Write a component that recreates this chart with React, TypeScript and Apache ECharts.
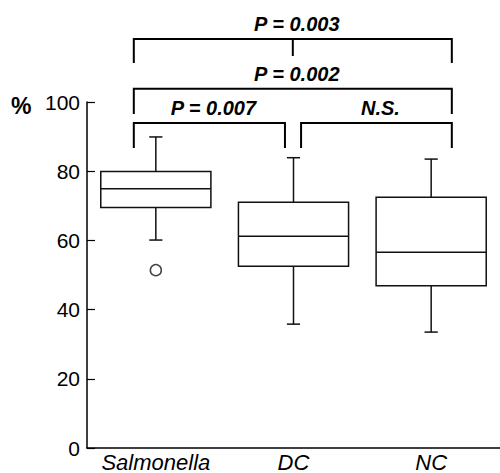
import React, { useEffect, useRef } from 'react';
import * as echarts from 'echarts';

const categories = ['Salmonella', 'DC', 'NC'];
const whiskerLow = [60.1, 35.8, 33.5];
const quartile1 = [69.5, 52.5, 46.9];
const medians = [74.9, 61.2, 56.6];
const quartile3 = [79.9, 71.0, 72.5];
const whiskerHigh = [89.9, 83.9, 83.5];
const outlierCategory = [0];
const outlierValue = [51.4];

const yMin = 0;
const yMax = 100;
const yStep = 20;

const bracketFrom = [0, 0, 0, 1];
const bracketTo = [2, 2, 1, 2];
const bracketLevel = [118.2, 103.8, 93.9, 93.9];
const bracketLegEnd = [111.3, 96.5, 86.7, 86.7];
const bracketMidTickEnd = [113.3, -1, -1, -1];
const bracketLabels = ['P = 0.003', 'P = 0.002', 'P = 0.007', 'N.S.'];

const FONT = '"Liberation Sans", Arial, Helvetica, sans-serif';

export default function App() {
  const ref = useRef<HTMLDivElement>(null);
  useEffect(() => {
    document.body.style.margin = '0';
    if (!ref.current) return;
    const chart = echarts.init(ref.current, null, { renderer: 'svg' });

    const boxData = categories.map((_, i) => [
      i,
      whiskerLow[i],
      quartile1[i],
      medians[i],
      quartile3[i],
      whiskerHigh[i],
    ]);
    const outlierData = outlierCategory.map((c, i) => [c, outlierValue[i]]);
    const bracketData = bracketFrom.map((f, i) => [
      f,
      bracketLevel[i],
      bracketTo[i],
      bracketLegEnd[i],
      bracketMidTickEnd[i],
    ]);

    const lineStyle = { stroke: '#111', lineWidth: 1.5, fill: 'none' };

    const option: any = {
      animation: false,
      grid: { left: 87, right: 0, top: 102, bottom: 25 },
      xAxis: {
        type: 'category',
        data: categories,
        axisLine: { lineStyle: { color: '#000', width: 1.5 } },
        axisTick: { show: false },
        axisLabel: {
          color: '#000',
          fontSize: 22,
          fontStyle: 'italic',
          fontFamily: FONT,
          margin: 3,
          interval: 0,
          hideOverlap: false,
        },
        splitLine: { show: false },
      },
      yAxis: {
        type: 'value',
        min: yMin,
        max: yMax,
        interval: yStep,
        axisLine: { show: true, lineStyle: { color: '#000', width: 1.5 } },
        axisTick: { show: true, inside: true, length: 8, lineStyle: { color: '#000', width: 1.2 } },
        axisLabel: { color: '#000', fontSize: 21, fontFamily: FONT, margin: 7 },
        splitLine: { show: false },
      },
      graphic: [
        {
          type: 'text',
          left: 11,
          top: 94,
          style: { text: '%', fontSize: 23, fontWeight: 'bold', fontFamily: FONT, fill: '#000' },
        },
      ],
      series: [
        {
          type: 'custom',
          name: 'box',
          encode: { x: 0, y: [1, 2, 3, 4, 5] },
          data: boxData,
          clip: false,
          renderItem: (params: any, api: any) => {
            const idx = api.value(0);
            const band = api.size([1, 0])[0];
            const half = band * 0.4;
            const cap = band * 0.048;
            const pLow = api.coord([idx, api.value(1)]);
            const pQ1 = api.coord([idx, api.value(2)]);
            const pMed = api.coord([idx, api.value(3)]);
            const pQ3 = api.coord([idx, api.value(4)]);
            const pHigh = api.coord([idx, api.value(5)]);
            const cx = pMed[0];
            return {
              type: 'group',
              children: [
                {
                  type: 'rect',
                  shape: { x: cx - half, y: pQ3[1], width: half * 2, height: pQ1[1] - pQ3[1] },
                  style: lineStyle,
                },
                { type: 'line', shape: { x1: cx - half, y1: pMed[1], x2: cx + half, y2: pMed[1] }, style: lineStyle },
                { type: 'line', shape: { x1: cx, y1: pQ3[1], x2: cx, y2: pHigh[1] }, style: lineStyle },
                { type: 'line', shape: { x1: cx, y1: pQ1[1], x2: cx, y2: pLow[1] }, style: lineStyle },
                { type: 'line', shape: { x1: cx - cap, y1: pHigh[1], x2: cx + cap, y2: pHigh[1] }, style: lineStyle },
                { type: 'line', shape: { x1: cx - cap, y1: pLow[1], x2: cx + cap, y2: pLow[1] }, style: lineStyle },
              ],
            };
          },
        },
        {
          type: 'scatter',
          name: 'outliers',
          data: outlierData,
          symbol: 'circle',
          symbolSize: 11,
          itemStyle: { color: '#fff', borderColor: '#111', borderWidth: 1.5 },
        },
        {
          type: 'custom',
          name: 'brackets',
          encode: { x: 0, y: 1 },
          data: bracketData,
          clip: false,
          renderItem: (params: any, api: any) => {
            const i = params.dataIndex;
            const band = api.size([1, 0])[0];
            const from = api.value(0);
            const level = api.value(1);
            const to = api.value(2);
            const legEnd = api.value(3);
            const mid = api.value(4);
            const leftOff = from === 0 ? -0.16 : 0.055;
            const rightOff = to === categories.length - 1 ? 0.15 : -0.062;
            const pL = api.coord([from, level]);
            const pR = api.coord([to, level]);
            const pEnd = api.coord([from, legEnd]);
            const x1 = pL[0] + leftOff * band;
            const x2 = pR[0] + rightOff * band;
            const y = pL[1];
            const yEnd = pEnd[1];
            const st = { stroke: '#000', lineWidth: 2, fill: 'none' };
            const children: any[] = [
              { type: 'polyline', shape: { points: [[x1, yEnd], [x1, y], [x2, y], [x2, yEnd]] }, style: st },
              {
                type: 'text',
                style: {
                  x: (x1 + x2) / 2 + 4,
                  y: y - 5,
                  text: bracketLabels[i],
                  fontSize: 20,
                  fontWeight: 'bold',
                  fontStyle: 'italic',
                  fontFamily: FONT,
                  fill: '#000',
                  align: 'center',
                  verticalAlign: 'bottom',
                },
              },
            ];
            if (mid >= 0) {
              const pM = api.coord([from, mid]);
              const mx = (x1 + x2) / 2;
              children.push({ type: 'line', shape: { x1: mx, y1: y, x2: mx, y2: pM[1] }, style: st });
            }
            return { type: 'group', children };
          },
        },
      ],
    };
    chart.setOption(option);
    return () => chart.dispose();
  }, []);
  return <div ref={ref} style={{ width: 500, height: 473 }} />;
}
